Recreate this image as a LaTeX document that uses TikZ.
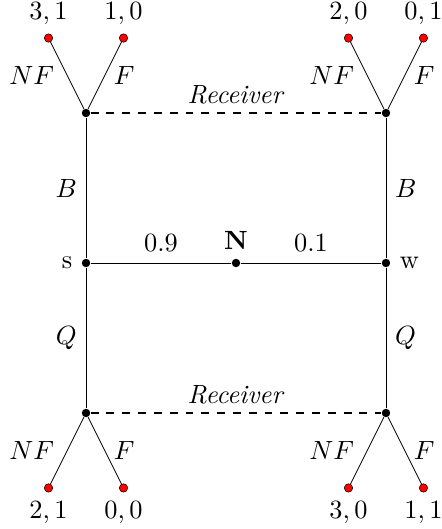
\documentclass[tikz,border=0pt]{standalone}
\usetikzlibrary{positioning}

\tikzset{
	dec/.style={circle, fill=black, inner sep=0pt, minimum size=3.2pt},
	leaf/.style={circle, draw=black, fill=red, inner sep=0pt, minimum size=3.2pt, line width=0.2pt},
	info/.style={dashed, thin}
}

\begin{document}
\begin{tikzpicture}[line width=0.3pt]
	\useasboundingbox (-3.147,-3.547) rectangle (2.747,3.507);
	% chance node and sender types
	\node[dec, label=above:{\textbf{N}}] (N) at (0,0) {};
	\node[dec, label=left:{s}] (s) at (-2,0) {};
	\node[dec, label=right:{w}] (w) at (2,0) {};
	% receiver nodes
	\node[dec] (sB) at (-2,2) {};
	\node[dec] (wB) at (2,2) {};
	\node[dec] (sQ) at (-2,-2) {};
	\node[dec] (wQ) at (2,-2) {};
	% terminal nodes
	\node[leaf, label=above:{$3,1$}] (sBNF) at (-2.5,3) {};
	\node[leaf, label=above:{$1,0$}] (sBF) at (-1.5,3) {};
	\node[leaf, label=above:{$2,0$}] (wBNF) at (1.5,3) {};
	\node[leaf, label=above:{$0,1$}] (wBF) at (2.5,3) {};
	\node[leaf, label=below:{$2,1$}] (sQNF) at (-2.5,-3) {};
	\node[leaf, label=below:{$0,0$}] (sQF) at (-1.5,-3) {};
	\node[leaf, label=below:{$3,0$}] (wQNF) at (1.5,-3) {};
	\node[leaf, label=below:{$1,1$}] (wQF) at (2.5,-3) {};

	\draw (N) -- node[above=1pt] {$0.9$} (s);
	\draw (N) -- node[above=1pt] {$0.1$} (w);
	\draw (s) -- node[left] {$B$} (sB);
	\draw (s) -- node[left] {$Q$} (sQ);
	\draw (w) -- node[right] {$B$} (wB);
	\draw (w) -- node[right] {$Q$} (wQ);

	\draw (sB) -- node[left=1.5pt] {$NF$} (sBNF);
	\draw (sB) -- node[right] {$F$} (sBF);
	\draw (wB) -- node[left=1.5pt] {$NF$} (wBNF);
	\draw (wB) -- node[right] {$F$} (wBF);
	\draw (sQ) -- node[left=1.5pt] {$NF$} (sQNF);
	\draw (sQ) -- node[right] {$F$} (sQF);
	\draw (wQ) -- node[left=1.5pt] {$NF$} (wQNF);
	\draw (wQ) -- node[right] {$F$} (wQF);

	% information sets
	\draw[info] (sB) -- node[above] {\textit{Receiver}} (wB);
	\draw[info] (sQ) -- node[above] {\textit{Receiver}} (wQ);
\end{tikzpicture}
\end{document}
